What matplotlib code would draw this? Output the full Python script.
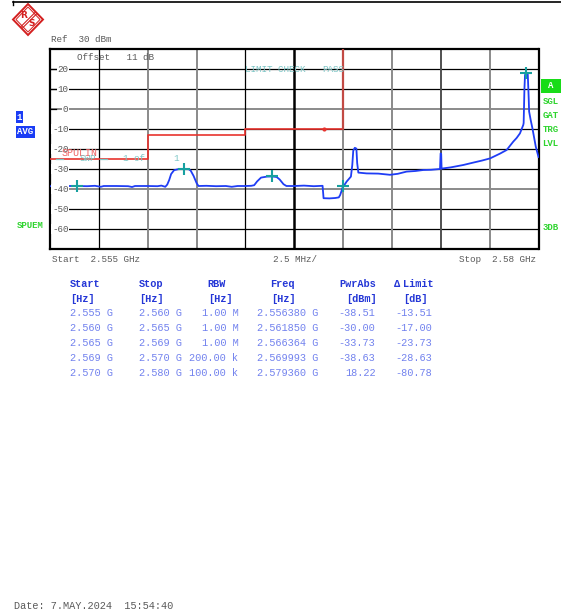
import matplotlib
matplotlib.use("Agg")
import matplotlib.pyplot as plt
from matplotlib.patches import Polygon, Rectangle

plt.rcParams['font.family'] = ['Liberation Mono', 'DejaVu Sans Mono']

# ---- sweep segments (spurious emission table) ----
seg_start_ghz = [2.555, 2.560, 2.565, 2.569, 2.570]
seg_stop_ghz = [2.560, 2.565, 2.569, 2.570, 2.580]
rbw_labels = ["1.00 M", "1.00 M", "1.00 M", "200.00 k", "100.00 k"]
peak_freq_ghz = [2.556380, 2.561850, 2.566364, 2.569993, 2.579360]
pwr_abs_dbm = [-38.51, -30.00, -33.73, -38.63, 18.22]
delta_limit_db = [-13.51, -17.00, -23.73, -28.63, -80.78]

# ---- measured trace (frequency in MHz, level in dBm) ----
trace_freq_mhz = [
    2555.00, 2555.40, 2555.80, 2556.38, 2556.90, 2557.30, 2557.60, 2557.75,
    2558.40, 2559.00, 2559.20, 2559.35, 2560.00, 2560.50, 2560.70, 2560.90,
    2561.00, 2561.10, 2561.20, 2561.35, 2561.60, 2561.85, 2562.10, 2562.20,
    2562.35, 2562.50, 2562.60, 2563.00, 2563.50, 2564.00, 2564.30, 2564.60,
    2565.00, 2565.30, 2565.45, 2565.60, 2565.80, 2566.10, 2566.364, 2566.60,
    2566.75, 2566.95, 2567.10, 2567.50, 2568.00, 2568.50, 2568.95, 2569.00,
    2569.30, 2569.60, 2569.78, 2569.85, 2569.92, 2569.993, 2570.10, 2570.18,
    2570.40, 2570.47, 2570.52, 2570.60, 2570.68, 2570.72, 2570.78, 2571.20,
    2571.80, 2572.40, 2572.80, 2573.25, 2573.70, 2574.10, 2574.50, 2574.96,
    2574.99, 2575.02, 2575.04, 2575.50, 2576.15, 2576.66, 2577.10, 2577.52,
    2578.03, 2578.37, 2578.71, 2578.88, 2579.05, 2579.22, 2579.24, 2579.28,
    2579.31, 2579.36, 2579.45, 2579.50, 2579.52, 2579.60, 2579.69, 2579.86,
    2580.00,
]
trace_level_dbm = [
    -38.6, -38.4, -38.5, -38.51, -38.6, -38.4, -38.9, -38.5,
    -38.5, -38.6, -39.0, -38.5, -38.5, -38.6, -38.3, -38.9,
    -37.8, -35.5, -32.5, -30.6, -30.0, -30.00, -30.1, -30.8,
    -33.5, -37.0, -38.5, -38.4, -38.6, -38.5, -38.9, -38.5,
    -38.5, -38.4, -38.1, -36.2, -34.3, -33.8, -33.73, -34.0,
    -35.2, -37.6, -38.5, -38.5, -38.3, -38.6, -38.4, -44.6,
    -44.7, -44.5, -44.2, -43.0, -41.0, -38.63, -37.5, -36.3,
    -33.8, -28.0, -20.8, -19.4, -19.8, -27.0, -31.8, -32.2,
    -32.3, -32.9, -32.4, -31.3, -31.0, -30.5, -30.4, -30.0,
    -22.2, -22.5, -29.8, -29.2, -28.0, -26.8, -25.8, -24.7,
    -22.3, -20.5, -16.3, -14.5, -12.2, -8.0, -7.0, 10.0,
    17.0, 18.22, 17.5, 5.0, -1.3, -5.5, -9.7, -18.8,
    -24.0,
]

ref_level = 30
y_bottom = -70
y_ticks = [20, 10, 0, -10, -20, -30, -40, -50, -60]
y_grid_colors = ['k', 'k', '#8a8a8a', 'k', 'k', 'k', '#8a8a8a', 'k', 'k']
x_grid_colors = ['k', '#8a8a8a', '#8a8a8a', 'k', 'k', '#8a8a8a', '#8a8a8a', '#505050', '#8a8a8a']

W, H = 561, 614
fig = plt.figure(figsize=(W / 100, H / 100), dpi=100)
fig.patch.set_facecolor('white')

# ---- diagram area ----
ax = fig.add_axes([50 / W, 1 - 249 / H, 488.5 / W, 200 / H])
f0 = seg_start_ghz[0] * 1000
f1 = seg_stop_ghz[-1] * 1000
ax.set_xlim(f0, f1)
ax.set_ylim(y_bottom, ref_level)
ax.set_xticks([])
ax.set_yticks([])
for s in ax.spines.values():
    s.set_linewidth(1.6)
    s.set_color('k')

for v, c in zip(y_ticks, y_grid_colors):
    ax.axhline(v, color=c, lw=0.9 if c == 'k' else 1.4, zorder=1)
span = (f1 - f0) / 10
for i, c in enumerate(x_grid_colors, start=1):
    xv = f0 + i * span
    lw = 1.8 if i == 5 else (0.9 if c == 'k' else 1.4)
    ax.axvline(xv, color=c, lw=lw, zorder=1)

# limit line built from the table (level = PwrAbs - delta)
limit_db = [p - d for p, d in zip(pwr_abs_dbm, delta_limit_db)]
lx, ly = [], []
for a, b, l in zip(seg_start_ghz, seg_stop_ghz, limit_db):
    lx += [a * 1000, b * 1000]
    ly += [l, l]
ax.plot(lx[:-2], ly[:-2], color='#e8332e', lw=1.2, zorder=3)
ax.plot(lx[-3:-1], [ly[-3], ly[-2]], color='#c24a44', lw=1.6, zorder=3)
ax.plot([seg_start_ghz[3] * 1000], [limit_db[3]], 'o', color='#e8332e', ms=2, zorder=3)

# trace and peak markers
ax.plot(trace_freq_mhz, trace_level_dbm, color='#1f3df5', lw=1.3, zorder=4)
ax.plot([f * 1000 for f in peak_freq_ghz], pwr_abs_dbm, '+', color='#17a0a0',
        ms=9, mew=1.5, zorder=5)

# ---- annotation layer in pixel coordinates ----
ov = fig.add_axes([0, 0, 1, 1], zorder=5)
ov.set_xlim(0, W)
ov.set_ylim(H, 0)
ov.axis('off')
ov.patch.set_alpha(0)

gray = '#5a5a5a'
fs_s = 6.7
fs_t = 7.4

# header rule and logo
ov.plot([13, W], [2, 2], color='k', lw=1.2)
ov.plot([13, 13], [1, 5], color='k', lw=1.0)
ov.add_patch(Polygon([(28, 4), (43, 19.5), (28, 35), (13, 19.5)], closed=True,
                     fill=False, ec='#d42020', lw=1.4))
ov.add_patch(Polygon([(28, 7), (40, 19.5), (28, 32), (16, 19.5)], closed=True,
                     fill=False, ec='#d42020', lw=0.7))
ov.plot([21, 35], [26.5, 12.5], color='#d42020', lw=0.8)
ov.plot([22.5, 36.5], [28, 14], color='#d42020', lw=0.8)
ov.text(24, 15, 'R', color='#d42020', fontsize=6.5, fontweight='bold',
        ha='center', va='center', family='DejaVu Sans')
ov.text(32, 24, 'S', color='#d42020', fontsize=6.5, fontweight='bold',
        ha='center', va='center', family='DejaVu Sans')

ov.text(51, 40, 'Ref  30 dBm', color=gray, fontsize=fs_s, va='center')
ov.text(77, 58, 'Offset   11 dB', color=gray, fontsize=fs_s, va='center')

# level scale
for v in y_ticks:
    yp = 49 + (ref_level - v) * 2
    ov.plot([50, 56], [yp, yp], color='k', lw=0.9)
    ov.text(68.5, yp, str(v), color=gray, fontsize=fs_s, ha='right', va='center',
            bbox=dict(fc='white', ec='none', pad=0.4))

teal = '#7cc6c6'
ov.text(245, 70, 'LIMIT CHECK', color=teal, fontsize=fs_s, va='center')
ov.text(322, 70, 'PASS', color=teal, fontsize=fs_s, va='center')
ov.text(62, 152.5, 'SPULIN', color='#ee6464', fontsize=7.2, va='center')
ov.plot([56, 63], [158.5, 158.5], color=teal, lw=0.9)
ov.plot([100, 107], [158.5, 158.5], color=teal, lw=0.9)
ov.text(80, 158.5, 'SWP', color=teal, fontsize=fs_s, va='center')
ov.text(123, 158.5, '1 of', color=teal, fontsize=fs_s, va='center')
ov.text(173, 158.5, '1', color=teal, fontsize=fs_s, va='center')

# side annotations
blue_box = '#1a3cf5'
ov.add_patch(Rectangle((16, 111), 7, 12, fc=blue_box, ec='none'))
ov.text(19.5, 117, '1', color='white', fontsize=6.5, fontweight='bold',
        ha='center', va='center')
ov.add_patch(Rectangle((16, 126), 19, 12, fc=blue_box, ec='none'))
ov.text(25.5, 132, 'AVG', color='white', fontsize=6.5, fontweight='bold',
        ha='center', va='center')
green = '#2fd42f'
ov.text(17, 225.7, 'SPUEM', color=green, fontsize=6.5, fontweight='bold', va='center')
ov.add_patch(Rectangle((541, 79), 20, 14, fc='#18dc18', ec='none'))
ov.text(551, 86, 'A', color='white', fontsize=6.5, fontweight='bold',
        ha='center', va='center')
for lab, yp in [('SGL', 101), ('GAT', 115), ('TRG', 129.3), ('LVL', 143.3), ('3DB', 227.3)]:
    ov.text(542.5, yp, lab, color=green, fontsize=6.5, fontweight='bold', va='center')

# frequency axis annotations
ov.text(52, 260, f'Start  {seg_start_ghz[0]:.3f} GHz', color=gray, fontsize=fs_s, va='center')
ov.text(295, 260, '2.5 MHz/', color=gray, fontsize=fs_s, ha='center', va='center')
ov.text(536, 260, f'Stop  {seg_stop_ghz[-1]:.2f} GHz', color=gray, fontsize=fs_s,
        ha='right', va='center')

# ---- result table ----
hdr = '#2436d6'
dat = '#7282ee'
y_h1, y_h2 = 284.3, 299.3
ov.text(70, y_h1, 'Start', color=hdr, fontsize=fs_t, fontweight='bold', va='center')
ov.text(139, y_h1, 'Stop', color=hdr, fontsize=fs_t, fontweight='bold', va='center')
ov.text(207, y_h1, 'RBW', color=hdr, fontsize=fs_t, fontweight='bold', va='center')
ov.text(270, y_h1, 'Freq', color=hdr, fontsize=fs_t, fontweight='bold', va='center')
ov.text(339, y_h1, 'PwrAbs', color=hdr, fontsize=fs_t, fontweight='bold', va='center')
ov.text(394, y_h1, '\u0394', color=hdr, fontsize=fs_t, fontweight='bold', va='center')
ov.text(403, y_h1, 'Limit', color=hdr, fontsize=fs_t, fontweight='bold', va='center')
ov.text(70, y_h2, '[Hz]', color=hdr, fontsize=fs_t, fontweight='bold', va='center')
ov.text(139, y_h2, '[Hz]', color=hdr, fontsize=fs_t, fontweight='bold', va='center')
ov.text(208, y_h2, '[Hz]', color=hdr, fontsize=fs_t, fontweight='bold', va='center')
ov.text(271, y_h2, '[Hz]', color=hdr, fontsize=fs_t, fontweight='bold', va='center')
ov.text(346, y_h2, '[dBm]', color=hdr, fontsize=fs_t, fontweight='bold', va='center')
ov.text(403, y_h2, '[dB]', color=hdr, fontsize=fs_t, fontweight='bold', va='center')

for i in range(len(seg_start_ghz)):
    yr = 313.3 + 15 * i
    ov.text(70, yr, f'{seg_start_ghz[i]:.3f} G', color=dat, fontsize=fs_t, va='center')
    ov.text(139, yr, f'{seg_stop_ghz[i]:.3f} G', color=dat, fontsize=fs_t, va='center')
    ov.text(238.5, yr, rbw_labels[i], color=dat, fontsize=fs_t, ha='right', va='center')
    ov.text(257, yr, f'{peak_freq_ghz[i]:.6f} G', color=dat, fontsize=fs_t, va='center')
    ov.text(375.5, yr, f'{pwr_abs_dbm[i]:.2f}', color=dat, fontsize=fs_t, ha='right', va='center')
    ov.text(432, yr, f'{delta_limit_db[i]:.2f}', color=dat, fontsize=fs_t, ha='right', va='center')

ov.text(14, 605.7, 'Date: 7.MAY.2024  15:54:40', color=gray, fontsize=fs_t, va='center')

fig.savefig('out.png', dpi=100, facecolor='white')
